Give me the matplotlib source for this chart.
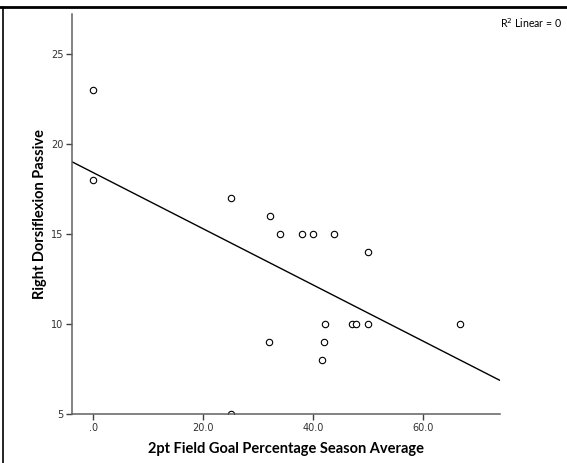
import numpy as np
from matplotlib import pyplot as plt
from matplotlib.lines import Line2D

## values
fg2_pct = [0.0, 0.0, 25.0, 32.2, 34.0, 38.0, 40.0, 43.8, 50.0,
           42.2, 47.1, 47.8, 50.0, 66.7, 32.0, 42.0, 41.6, 25.0]
dorsi_passive = [23, 18, 17, 16, 15, 15, 15, 15, 14,
                 10, 10, 10, 10, 10, 9, 9, 8, 5]

x_ticks = [0, 20, 40, 60]
x_tick_labels = [".0", "20.0", "40.0", "60.0"]
y_ticks = [5, 10, 15, 20, 25]
y_tick_labels = ["5", "10", "15", "20", "25"]

x = np.array(fg2_pct)
y = np.array(dorsi_passive)

fig = plt.figure(figsize=(5.67, 4.63), dpi=100)
ax = fig.add_axes([0.127, 0.1052, 0.754, 0.865])

xlim = (-3.88, 73.9)
ylim = (5.0, 27.24)

ax.plot(x, y, linestyle="none", marker="o", markersize=4.6,
        markerfacecolor="white", markeredgecolor="black", markeredgewidth=0.8)

## least squares fit line, like SPSS "fit line at total"
slope, intercept = np.polyfit(x, y, 1)
xs = np.array(xlim)
ax.plot(xs, intercept + slope * xs, color="black", linewidth=1.0)

ax.set_xlim(*xlim)
ax.set_ylim(*ylim)
ax.set_xticks(x_ticks)
ax.set_xticklabels(x_tick_labels)
ax.set_yticks(y_ticks)
ax.set_yticklabels(y_tick_labels)

for side in ["top", "right"]:
    ax.spines[side].set_visible(False)
for side in ["left", "bottom"]:
    ax.spines[side].set_color("#606060")
    ax.spines[side].set_linewidth(1.1)
ax.tick_params(direction="out", length=4, width=1.0, color="#404040",
               labelsize=7, labelcolor="#303030", pad=2)

ax.set_xlabel("2pt Field Goal Percentage Season Average",
              family="Lato", fontweight="bold", fontsize=10.5, labelpad=7)
ax.set_ylabel("Right Dorsiflexion Passive",
              family="Lato", fontweight="bold", fontsize=10.5, labelpad=3)

fig.text(500 / 567, 1 - 23 / 463, r"R$^2$ Linear = 0", fontsize=7.6,
         family="Lato", va="center", ha="left")

## frame lines of the original screenshot
fig.add_artist(Line2D([0, 1], [1 - 6.5 / 463] * 2, color="black",
                      linewidth=2.0, transform=fig.transFigure))
fig.add_artist(Line2D([3 / 567] * 2, [0, 1 - 6.5 / 463], color="black",
                      linewidth=1.2, transform=fig.transFigure))

fig.savefig("out.png", dpi=100)
